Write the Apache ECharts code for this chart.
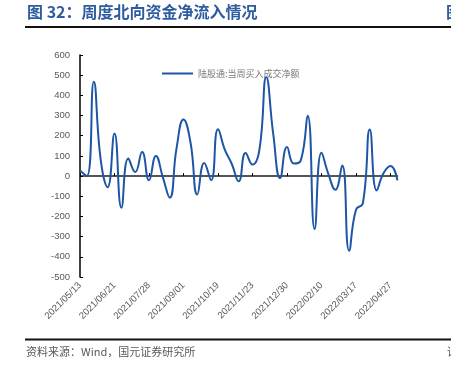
<!DOCTYPE html>
<html>
<head>
<meta charset="utf-8">
<script src="https://cdn.jsdelivr.net/npm/echarts@6/dist/echarts.min.js"></script>
<style>
html,body{margin:0;padding:0;background:#fff;}
#c{width:451px;height:374px;}
</style>
</head>
<body>
<div id="c"></div>
<script>
const titleText = '图 32：周度北向资金净流入情况';
const sourceText = '资料来源：Wind，国元证券研究所';
const seriesName = '陆股通:当周买入成交净额';
const categories = [
  '2021/05/13','2021/05/20','2021/05/27','2021/06/03','2021/06/10',
  '2021/06/21','2021/06/25','2021/07/02','2021/07/09','2021/07/16',
  '2021/07/28','2021/07/30','2021/08/06','2021/08/13','2021/08/20',
  '2021/09/01','2021/09/03','2021/09/10','2021/09/17','2021/10/08',
  '2021/10/19','2021/10/22','2021/10/29','2021/11/05','2021/11/12',
  '2021/11/23','2021/11/26','2021/12/03','2021/12/10','2021/12/17',
  '2021/12/30','2022/01/07','2022/01/14','2022/01/21','2022/01/28',
  '2022/02/10','2022/02/11','2022/02/18','2022/02/25','2022/03/04',
  '2022/03/17','2022/03/18','2022/03/25','2022/04/01','2022/04/15',
  '2022/04/27','2022/04/29'
];
const netInflow = [
  28, 0, 468, 80, -55, 211, -157, 87, 20, 119,
  -21, 100, -5, -107, 140, 280, 170, -91, 65, -20,
  232, 130, 60, -26, 114, 57, 130, 490, 210, -10,
  144, 62, 78, 299, -262, 116, 10, -68, 53, -370,
  -167, -134, 231, -71, 15, 50, -21
];
const yMin = -500, yMax = 600, yStep = 100;

const chart = echarts.init(document.getElementById('c'), null, {renderer: 'canvas'});
const grey = '#595959';
chart.setOption({
  animation: false,
  backgroundColor: '#fff',
  textStyle: {fontFamily: 'Liberation Sans, Arial, sans-serif'},
  grid: {left: 80, top: 55, width: 317.4, height: 222, containLabel: false},
  legend: {
    left: 157, top: 64,
    icon: 'rect', itemWidth: 31, itemHeight: 2, itemGap: 5,
    data: [seriesName],
    textStyle: {fontFamily: 'Noto Sans CJK SC', fontSize: 9, color: '#7a7a7a'}
  },
  xAxis: [{
    type: 'category', data: categories, boundaryGap: false, position: 'bottom',
    axisLine: {show: false, onZero: false},
    axisTick: {show: false},
    axisLabel: {interval: 4, rotate: 45, fontSize: 9.5, color: grey, margin: 7}
  }, {
    type: 'category', data: categories, boundaryGap: false, position: 'top',
    axisLine: {show: true, onZero: true, lineStyle: {color: '#555', width: 2}},
    axisTick: {show: true, interval: 4, inside: false, length: 3, lineStyle: {color: '#000', width: 1}},
    axisLabel: {show: false}
  }],
  yAxis: {
    type: 'value', min: yMin, max: yMax, interval: yStep,
    axisLine: {show: true, lineStyle: {color: '#000', width: 1.5}},
    axisTick: {show: true, inside: true, length: 3, lineStyle: {color: '#000'}},
    axisLabel: {fontSize: 9.5, color: grey, margin: 10},
    splitLine: {show: false}
  },
  series: [{
    name: seriesName, type: 'line', xAxisIndex: 0, data: netInflow,
    smooth: 0.5, symbol: 'none',
    lineStyle: {color: '#1E56A5', width: 2},
    itemStyle: {color: '#1E56A5'}
  }],
  graphic: [
    {type: 'text', left: 27, top: 4, style: {text: titleText, fill: '#2F5C9E', font: 'bold 16px "Noto Sans CJK SC"'}},
    {type: 'text', left: 446, top: 4, style: {text: '图', fill: '#2F5C9E', font: 'bold 16px "Noto Sans CJK SC"'}},
    {type: 'line', shape: {x1: 25, y1: 27, x2: 451, y2: 27}, style: {stroke: '#111', lineWidth: 2}},
    {type: 'line', shape: {x1: 25, y1: 339.5, x2: 451, y2: 339.5}, style: {stroke: '#111', lineWidth: 2}},
    {type: 'text', left: 26, top: 346, style: {text: sourceText, fill: grey, font: '11px "Noto Sans CJK SC"'}},
    {type: 'text', left: 447, top: 346, style: {text: '请', fill: grey, font: '11px "Noto Sans CJK SC"'}}
  ]
});
</script>
</body>
</html>
